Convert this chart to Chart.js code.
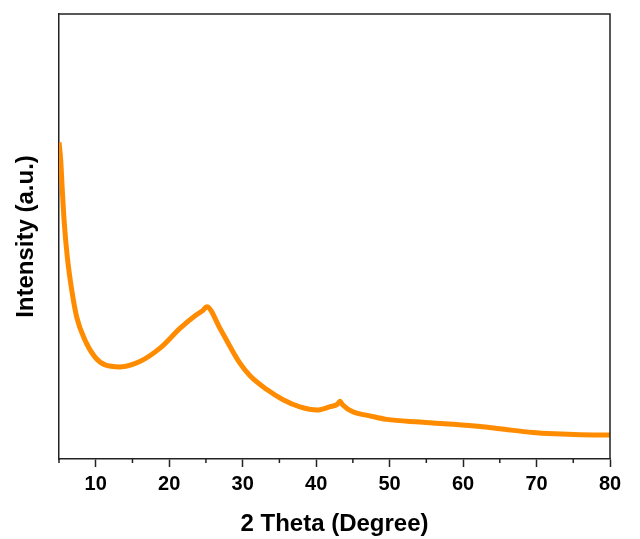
<!DOCTYPE html>
<html>
<head>
<meta charset="utf-8">
<script src="https://cdn.jsdelivr.net/npm/chart.js@4"></script>
<style>
  html, body { margin: 0; padding: 0; background: #fff; }
  #wrap { width: 640px; height: 539px; }
</style>
</head>
<body>
<div id="wrap"><canvas id="xrdChart" width="640" height="539"></canvas></div>
<script>
// 2 theta (degree) and intensity (a.u.)
const twoTheta = [5, 5.23, 5.45, 5.72, 6.13, 6.73, 7.41, 8.54, 9.9, 11.2, 13.3, 16.0, 18.75, 21.5, 23.7, 24.6, 25.1,
                  26.9, 28.3, 29.6, 31.0, 33.3, 35.5, 37.8, 40.1, 41.9, 42.9, 43.25, 43.6, 45.0, 47.3, 49.6,
                  54.1, 58.6, 62.3, 65.0, 69.5, 72.5, 76.0, 80];
const intensity = [71.2, 67.2, 60.4, 53.0, 45.4, 38.0, 31.9, 26.7, 22.9, 21.2, 20.7, 21.9, 24.9, 29.4, 32.4, 33.4, 34.2,
                   29.4, 25.2, 21.6, 18.7, 15.6, 13.3, 11.7, 11.0, 11.75, 12.3, 13.0, 12.2, 10.6, 9.7, 8.9,
                   8.3, 7.8, 7.3, 6.8, 5.95, 5.65, 5.45, 5.4];
const majorTicks = [10, 20, 30, 40, 50, 60, 70, 80];
const minorTicks = [5, 15, 25, 35, 45, 55, 65, 75];

const axisColor = '#222';

const frame = {
    id: 'frame',
    afterDraw(chart) {
        const { ctx, chartArea: a, scales: { x } } = chart;
        ctx.save();
        ctx.strokeStyle = axisColor;
        ctx.lineWidth = 1.5;
        ctx.beginPath();
        ctx.moveTo(a.left, a.top);
        ctx.lineTo(a.right, a.top);
        ctx.lineTo(a.right, a.bottom);
        minorTicks.forEach(v => {
            const px = x.getPixelForValue(v);
            ctx.moveTo(px, a.bottom);
            ctx.lineTo(px, a.bottom + 4);
        });
        ctx.stroke();
        ctx.restore();
    }
};

const ctx = document.getElementById('xrdChart').getContext('2d');
new Chart(ctx, {
    type: 'line',
    data: {
        datasets: [{
            data: twoTheta.map((t, i) => ({ x: t, y: intensity[i] })),
            borderColor: '#ff8c00',
            borderWidth: 5,
            pointRadius: 0,
            cubicInterpolationMode: 'monotone',
            fill: false
        }]
    },
    options: {
        responsive: false,
        animation: false,
        layout: { padding: { top: 14, right: 30, left: 0, bottom: 0 } },
        plugins: { legend: { display: false }, tooltip: { enabled: false } },
        scales: {
            x: {
                type: 'linear',
                min: 5,
                max: 80,
                afterBuildTicks: s => { s.ticks = majorTicks.map(v => ({ value: v })); },
                afterFit: s => { s.height = 80; },
                ticks: {
                    color: '#000',
                    font: { family: 'Liberation Sans', size: 20, weight: 'bold' },
                    padding: 5,
                    maxRotation: 0
                },
                grid: { drawOnChartArea: false, tickLength: 8, tickColor: axisColor, tickWidth: 1.5 },
                border: { color: axisColor, width: 1.5 },
                title: {
                    display: true,
                    text: '2 Theta (Degree)',
                    color: '#000',
                    font: { family: 'Liberation Sans', size: 24, weight: 'bold' },
                    padding: { top: 2, bottom: 0 }
                }
            },
            y: {
                min: 0,
                max: 100,
                afterFit: s => { s.width = 59; },
                ticks: { display: false },
                grid: { display: false },
                border: { color: axisColor, width: 1.5 },
                title: {
                    display: true,
                    text: 'Intensity (a.u.)',
                    color: '#000',
                    font: { family: 'Liberation Sans', size: 24, weight: 'bold' },
                    padding: { top: 12, bottom: 0 }
                }
            }
        }
    },
    plugins: [frame]
});
</script>
</body>
</html>
